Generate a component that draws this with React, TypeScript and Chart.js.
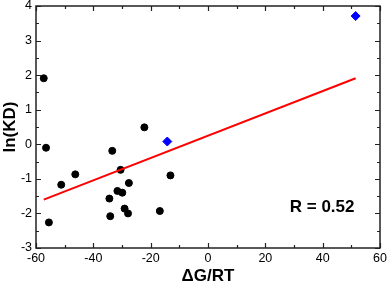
import React, { useEffect, useRef } from "react";
import { Chart, registerables } from "chart.js";

Chart.register(...registerables);

// Black circles: ΔG/RT vs ln(KD)
const circleX = [-57.3, -56.5, -55.5, -51.2, -46.3, -33.4, -34.4, -34.1, -31.6, -29.9, -30.5, -27.6, -29.1, -27.9, -22.2, -16.8, -13.1];
const circleY = [1.91, -0.10, -2.26, -1.17, -0.87, -0.19, -1.57, -2.08, -1.35, -1.40, -0.74, -1.12, -1.86, -2.00, 0.49, -1.93, -0.90];
// Blue diamonds
const diamondX = [-14.2, 51.5];
const diamondY = [0.08, 3.71];
// Regression line endpoints
const fitX = [-57.3, 51.5];
const fitY = [-1.60, 1.91];
// Axis settings
const xTicks = [-60, -40, -20, 0, 20, 40, 60];
const yTicks = [-3, -2, -1, 0, 1, 2, 3, 4];
const annotation = { text: "R = 0.52", x: 39.8, y: -1.81 };

const FONT = "'Liberation Sans', Arial, Helvetica, sans-serif";

const framePlugin = {
  id: "frameTicks",
  afterDatasetsDraw(chart: any) {
    const { ctx, chartArea, scales } = chart;
    const { left, right, top, bottom } = chartArea;
    const xs = scales.x;
    const ys = scales.y;
    ctx.save();
    ctx.strokeStyle = "#222";
    ctx.lineWidth = 1.2;
    for (let v = xTicks[0]; v <= xTicks[xTicks.length - 1]; v += 10) {
      const px = Math.round(xs.getPixelForValue(v)) + 0.5;
      const len = xTicks.includes(v) ? 5 : 3;
      ctx.beginPath();
      ctx.moveTo(px, bottom);
      ctx.lineTo(px, bottom - len);
      ctx.moveTo(px, top);
      ctx.lineTo(px, top + len);
      ctx.stroke();
    }
    for (let v = yTicks[0]; v <= yTicks[yTicks.length - 1] + 1e-9; v += 0.5) {
      const py = Math.round(ys.getPixelForValue(v)) + 0.5;
      const len = yTicks.includes(v) ? 5 : 3;
      ctx.beginPath();
      ctx.moveTo(left, py);
      ctx.lineTo(left + len, py);
      ctx.moveTo(right, py);
      ctx.lineTo(right - len, py);
      ctx.stroke();
    }
    ctx.lineWidth = 1.5;
    ctx.strokeRect(left, top, right - left, bottom - top);
    ctx.fillStyle = "#000";
    ctx.font = `bold 17px ${FONT}`;
    ctx.textAlign = "center";
    ctx.textBaseline = "middle";
    ctx.fillText(annotation.text, xs.getPixelForValue(annotation.x), ys.getPixelForValue(annotation.y));
    ctx.restore();
  },
};

export default function App() {
  const ref = useRef<HTMLCanvasElement>(null);
  useEffect(() => {
    if (!ref.current) return;
    const chart = new Chart(ref.current, {
      type: "scatter",
      data: {
        datasets: [
          {
            type: "line",
            data: fitX.map((x, i) => ({ x, y: fitY[i] })),
            borderColor: "#ff0000",
            borderWidth: 2,
            pointRadius: 0,
            showLine: true,
            fill: false,
          } as any,
          {
            data: circleX.map((x, i) => ({ x, y: circleY[i] })),
            backgroundColor: "#000",
            borderColor: "#000",
            pointRadius: 3.5,
            pointStyle: "circle",
          },
          {
            data: diamondX.map((x, i) => ({ x, y: diamondY[i] })),
            backgroundColor: "#0000ff",
            borderColor: "#0000ff",
            pointRadius: 4.5,
            pointStyle: "rectRot",
          },
        ],
      },
      options: {
        responsive: false,
        animation: false,
        layout: { padding: { top: 6, right: 9, left: 0, bottom: 0 }, autoPadding: false } as any,
        plugins: { legend: { display: false }, tooltip: { enabled: false } },
        scales: {
          x: {
            type: "linear",
            min: -60,
            max: 60,
            afterBuildTicks: (s: any) => { s.ticks = xTicks.map((v) => ({ value: v })); },
            afterFit: (s: any) => { s.height = 39; s.paddingLeft = 0; s.paddingRight = 0; },
            grid: { display: false, drawTicks: false },
            border: { display: false },
            ticks: { color: "#000", font: { family: FONT, size: 12.5 }, padding: 3, maxRotation: 0 },
            title: { display: true, text: "ΔG/RT", color: "#000", font: { family: FONT, size: 17, weight: "bold" }, padding: 0 },
          },
          y: {
            type: "linear",
            min: -3,
            max: 4,
            afterBuildTicks: (s: any) => { s.ticks = yTicks.map((v) => ({ value: v })); },
            afterFit: (s: any) => { s.width = 36; s.paddingTop = 0; s.paddingBottom = 0; },
            grid: { display: false, drawTicks: false },
            border: { display: false },
            ticks: { color: "#000", font: { family: FONT, size: 12.5 }, padding: 4 },
            title: { display: true, text: "ln(KD)", color: "#000", font: { family: FONT, size: 17, weight: "bold" }, padding: 0 },
          },
        },
      },
      plugins: [framePlugin],
    });
    return () => chart.destroy();
  }, []);
  return (
    <div style={{ position: "fixed", left: 0, top: 0, width: 389, height: 287, background: "#fff" }}>
      <canvas ref={ref} width={389} height={287} style={{ display: "block" }} />
    </div>
  );
}
